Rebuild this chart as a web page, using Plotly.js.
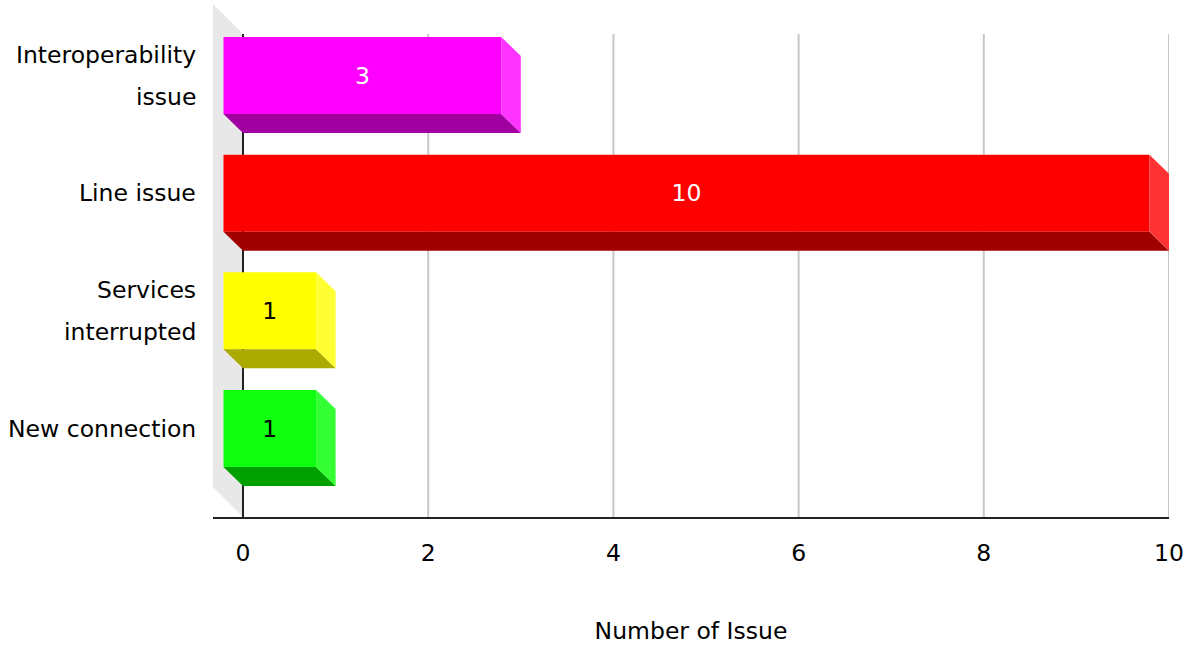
<!DOCTYPE html>
<html>
<head>
<meta charset="utf-8">
<script src="https://cdn.plot.ly/plotly-3.0.1.min.js"></script>
<style>
html,body{margin:0;padding:0;background:#fff;}
#chart{width:1185px;height:645px;}
</style>
</head>
<body>
<div id="chart"></div>
<script>
// ---- data ----
const categories = ['New connection', 'Services interrupted', 'Line issue', 'Interoperability issue'];
const labelLines = [['New connection'], ['Services', 'interrupted'], ['Line issue'], ['Interoperability', 'issue']];
const values = [1, 1, 10, 3];
const xTickVals = [0, 2, 4, 6, 8, 10];
const xTitle = 'Number of Issue';

// ---- styles ----
const frontColors  = ['#10FF10', '#FFFF00', '#FF0000', '#FF00FF'];
const sideColors   = ['#33FF33', '#FFFF33', '#FF3333', '#FF33FF'];
const bottomColors = ['#00A000', '#AAAA00', '#A00000', '#A000A0'];
const textColors   = ['#000000', '#000000', '#FFFFFF', '#FFFFFF'];
const FONT = '"Comic Sans MS", "DejaVu Sans", sans-serif';
const FS = 23.5;

const W = 1185, H = 645;
const M = {l: 213, r: 16, t: 4, b: 128};
const xRange = [-0.324, 10];
const yRange = [-0.752, 3.608];
const pxX = (W - M.l - M.r) / (xRange[1] - xRange[0]);
const pxY = (H - M.t - M.b) / (yRange[1] - yRange[0]);
const dx = 19.5 / pxX, dy = 19 / pxY;      // bar depth in data units
const half = 38.5 / pxY;                    // half bar height
const wallDy = 30 / pxY;                     // wall depth

const ys = categories.map((c, i) => i);

const shapes = [];
// back wall
shapes.push({type: 'path', layer: 'below', xref: 'x', yref: 'y',
  path: `M ${xRange[0]},${yRange[1]} L 0,${yRange[1] - wallDy} L 0,${yRange[0]} L ${xRange[0]},${yRange[0] + wallDy} Z`,
  fillcolor: '#E8E8E8', line: {width: 0}});
// gridlines
xTickVals.filter(v => v !== 0).forEach(v => {
  shapes.push({type: 'line', layer: 'below', xref: 'x', yref: 'y', x0: v, x1: v,
    y0: yRange[0], y1: yRange[1] - wallDy, line: {color: '#C8C8C8', width: 2}});
});
// vertical axis line
shapes.push({type: 'line', layer: 'below', xref: 'x', yref: 'y', x0: 0, x1: 0,
  y0: yRange[0], y1: yRange[1] - wallDy, line: {color: '#222222', width: 2}});
// side and bottom faces
values.forEach((v, i) => {
  const k = ys[i];
  shapes.push({type: 'path', layer: 'above', xref: 'x', yref: 'y',
    path: `M ${-dx},${k - half} L ${v - dx},${k - half} L ${v},${k - half - dy} L 0,${k - half - dy} Z`,
    fillcolor: bottomColors[i], line: {width: 0}});
  shapes.push({type: 'path', layer: 'above', xref: 'x', yref: 'y',
    path: `M ${v - dx},${k + half} L ${v},${k + half - dy} L ${v},${k - half - dy} L ${v - dx},${k - half} Z`,
    fillcolor: sideColors[i], line: {width: 0}});
});

// y labels
const annotations = [];
labelLines.forEach((lines, i) => {
  const n = lines.length;
  lines.forEach((t, j) => {
    annotations.push({xref: 'paper', yref: 'y', x: 0, y: ys[i], xanchor: 'right', yanchor: 'middle',
      xshift: -15, yshift: (n - 1) * 21 - j * 42, text: t, showarrow: false,
      font: {family: FONT, size: FS, color: '#000'}});
  });
});

const trace = {
  type: 'bar', orientation: 'h',
  x: values, y: ys, base: values.map(() => -dx), width: 2 * half,
  marker: {color: frontColors, line: {width: 0}},
  text: values.map(String), textposition: 'inside', insidetextanchor: 'middle',
  textangle: 0, constraintext: 'none',
  textfont: {family: FONT, size: FS, color: textColors},
  hoverinfo: 'skip'
};

const layout = {
  width: W, height: H, margin: M,
  paper_bgcolor: '#fff', plot_bgcolor: '#fff',
  showlegend: false,
  xaxis: {range: xRange, tickvals: xTickVals, showgrid: false, zeroline: false,
    showline: true, linecolor: '#222', linewidth: 2,
    ticks: '', ticklabelstandoff: 14,
    tickfont: {family: FONT, size: FS, color: '#000'},
    title: {text: xTitle, font: {family: FONT, size: FS, color: '#000'}, standoff: 57},
    automargin: false, fixedrange: true},
  yaxis: {range: yRange, showgrid: false, zeroline: false, showline: false,
    showticklabels: false, ticks: '', automargin: false, fixedrange: true},
  shapes: shapes,
  annotations: annotations
};

Plotly.newPlot('chart', [trace], layout, {displayModeBar: false, staticPlot: true});
</script>
</body>
</html>
